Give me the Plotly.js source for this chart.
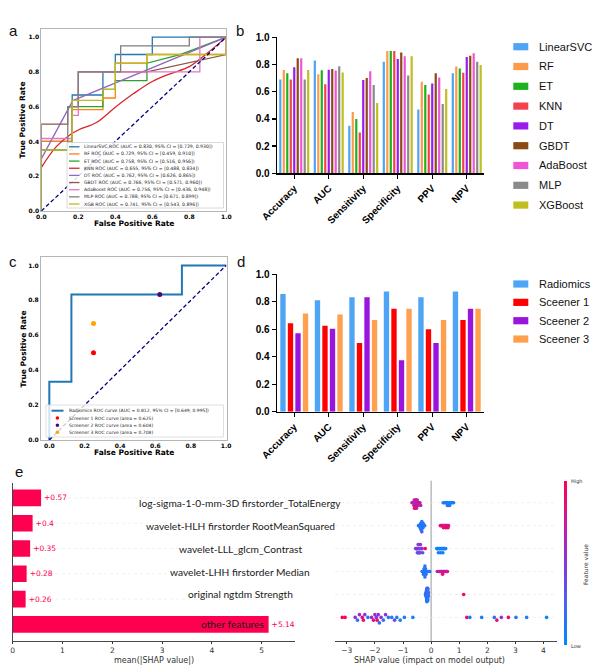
<!DOCTYPE html>
<html><head><meta charset="utf-8">
<script src="https://cdn.plot.ly/plotly-3.0.1.min.js"></script>
<style>html,body{margin:0;padding:0;background:#fff}#chart{width:600px;height:670px}</style>
</head><body><div id="chart"></div>
<script>
// ---------------- DATA ----------------
// Panel a: ROC curves of nine models
const rocModels = ['LinearSVC','RF','ET','KNN','DT','GBDT','AdaBoost','MLP','XGB'];
const rocAuc    = [0.830,0.729,0.758,0.655,0.762,0.766,0.756,0.788,0.741];
const rocCiLow  = [0.729,0.459,0.516,0.488,0.626,0.571,0.436,0.671,0.543];
const rocCiHigh = [0.930,0.910,0.956,0.834,0.865,0.960,0.948,0.899,0.896];
const linearSvcFpr = [0,0,0.167,0.167,0.333,0.333,0.4,0.4,0.6,0.6,1];
const linearSvcTpr = [0,0.4,0.4,0.667,0.667,0.8,0.8,0.9,0.9,1,1];
const rfFpr = [0,0,0.167,0.167,0.333,0.333,0.4,0.4,0.571,0.571,1,1];
const rfTpr = [0,0.4,0.4,0.583,0.583,0.65,0.65,0.85,0.85,0.9,0.9,1];
const etFpr = [0,0,0.167,0.167,0.333,0.333,0.4,0.4,0.571,0.571,0.75,1];
const etTpr = [0,0.35,0.35,0.6,0.6,0.7,0.7,0.75,0.75,0.85,0.9,1];
const knnFpr = [0,0.081,0.154,0.2,0.298,0.4,0.497,0.6,0.696,0.8,0.895,1];
const knnTpr = [0.25,0.37,0.437,0.466,0.509,0.597,0.674,0.745,0.789,0.83,0.906,1];
const dtFpr = [0,0,0.17,1];
const dtTpr = [0,0.3,0.635,1];
const gbdtFpr = [0,0,0.143,0.143,0.2,0.2,0.571,1,1];
const gbdtTpr = [0,0.5,0.5,0.6,0.6,0.8,0.8,0.9,1];
const adaFpr = [0,0,0.167,0.167,0.2,0.2,0.857,0.857,1];
const adaTpr = [0,0.417,0.417,0.55,0.55,0.8,0.8,1,1];
const mlpFpr = [0,0,0.143,0.143,0.2,0.2,0.429,0.429,0.8,0.8,1];
const mlpTpr = [0,0.35,0.35,0.6,0.6,0.8,0.8,0.95,0.95,1,1];
const xgbFpr = [0,0,0.167,0.167,0.333,0.333,0.4,0.4,0.571,0.571,1,1];
const xgbTpr = [0,0.35,0.35,0.636,0.636,0.7,0.7,0.85,0.85,0.9,0.9,1];

// Panel b: metrics of nine models
const metrics = ['Accuracy','AUC','Sensitivity','Specificity','PPV','NPV'];
const models  = ['LinearSVC','RF','ET','KNN','DT','GBDT','AdaBoost','MLP','XGBoost'];
const linearSvcScores = [0.690,0.830,0.350,0.820,0.470,0.735];
const rfScores        = [0.760,0.729,0.450,0.900,0.674,0.785];
const etScores        = [0.735,0.758,0.400,0.900,0.650,0.770];
const knnScores       = [0.690,0.655,0.300,0.900,0.580,0.740];
const dtScores        = [0.780,0.762,0.686,0.840,0.660,0.855];
const gbdtScores      = [0.846,0.766,0.700,0.889,0.735,0.865];
const adaScores       = [0.846,0.756,0.750,0.860,0.705,0.882];
const mlpScores       = [0.690,0.788,0.650,0.720,0.510,0.820];
const xgbScores       = [0.760,0.741,0.517,0.860,0.620,0.797];

// Panel c: radiomics ROC vs screeners
const radFpr = [0,0,0.125,0.125,0.75,0.75,1];
const radTpr = [0,0.333,0.333,0.833,0.833,1,1];
const radAuc = 0.812, radCi = [0.649,0.995];
const screenerNames = ['Screener 1','Screener 2','Screener 3'];
const screenerFpr   = [0.25,0.625,0.25];
const screenerTpr   = [0.5,0.833,0.667];
const screenerArea  = [0.625,0.604,0.708];

// Panel d: radiomics vs screeners metrics
const groupsD    = ['Radiomics','Sceener 1','Sceener 2','Sceener 3'];
const radiomics  = [0.857,0.812,0.833,0.875,0.833,0.875];
const screener1  = [0.643,0.625,0.500,0.750,0.600,0.667];
const screener2  = [0.571,0.604,0.833,0.375,0.500,0.750];
const screener3  = [0.714,0.708,0.667,0.750,0.667,0.750];

// Panel e: SHAP
const features = ['log-sigma-1-0-mm-3D firstorder_TotalEnergy','wavelet-HLH firstorder RootMeanSquared',
  'wavelet-LLL_glcm_Contrast','wavelet-LHH firstorder Median','original ngtdm Strength','other features'];
const meanShap = [0.57,0.4,0.35,0.28,0.26,5.14];
const shapTotalEnergy = [-0.68,-0.64,-0.62,-0.61,-0.60,-0.59,-0.58,-0.57,-0.56,-0.56,-0.55,-0.54,-0.53,-0.52,-0.51,-0.50,-0.49,-0.47,-0.45,-0.43,-0.40,-0.37,0.43,0.48,0.52,0.55,0.57,0.58,0.60,0.62,0.64,0.66,0.69,0.72,0.76,0.80];
const fvTotalEnergy   = [0.75,0.9,0.6,0.85,0.7,0.95,0.55,0.8,0.65,0.9,0.7,0.6,0.85,0.75,0.5,0.95,0.65,0.8,0.7,0.6,0.9,0.55,0.1,0.05,0.15,0.0,0.1,0.2,0.05,0.1,0.0,0.15,0.05,0.1,0.0,0.05];
const shapRms = [-0.45,-0.42,-0.40,-0.39,-0.38,-0.37,-0.37,-0.36,-0.35,-0.35,-0.34,-0.34,-0.33,-0.33,-0.32,-0.32,-0.31,-0.30,-0.29,-0.28,-0.26,-0.23,0.33,0.37,0.40,0.42,0.44,0.46,0.48,0.50,0.52,0.54,0.56,0.58,0.60,0.62];
const fvRms   = [0.1,0.15,0.05,0.2,0.1,0.0,0.25,0.1,0.05,0.15,0.2,0.1,0.0,0.3,0.1,0.05,0.15,0.2,0.1,0.25,0.05,0.1,0.9,0.8,0.95,0.85,0.7,1.0,0.9,0.75,0.95,0.85,0.8,0.9,1.0,0.85];
const shapContrast = [-0.55,-0.52,-0.50,-0.49,-0.48,-0.47,-0.46,-0.45,-0.44,-0.43,-0.42,-0.41,-0.40,-0.39,-0.38,-0.36,-0.34,-0.32,-0.30,-0.21,0.20,0.22,0.24,0.26,0.28,0.30,0.32,0.34,0.36,0.38,0.40,0.42,0.44,0.46,0.49,0.52];
const fvContrast   = [0.45,0.4,0.5,0.35,0.55,0.3,0.45,0.6,0.4,0.35,0.5,0.3,0.45,0.4,0.55,0.35,0.3,0.5,0.4,0.95,0.05,0.1,0.0,0.1,0.15,0.05,0.0,0.1,0.05,0.2,0.1,0.0,0.05,0.15,0.1,0.05];
const shapMedian = [-0.32,-0.30,-0.28,-0.27,-0.26,-0.25,-0.25,-0.24,-0.23,-0.23,-0.22,-0.22,-0.21,-0.21,-0.20,-0.19,-0.18,-0.17,-0.15,-0.12,-0.08,-0.05,0.22,0.28,0.32,0.35,0.37,0.39,0.41,0.43,0.45,0.47,0.50,0.53,0.56,0.58];
const fvMedian   = [0.1,0.2,0.05,0.15,0.1,0.25,0.0,0.1,0.2,0.05,0.15,0.1,0.3,0.05,0.2,0.1,0.15,0.0,0.1,0.2,0.05,0.1,0.6,0.75,0.7,0.85,0.65,0.8,0.9,0.7,0.6,0.85,0.75,0.9,0.8,0.7];
const shapStrength = [-0.20,-0.19,-0.19,-0.18,-0.18,-0.17,-0.17,-0.17,-0.16,-0.16,-0.16,-0.16,-0.15,-0.15,-0.15,-0.15,-0.15,-0.14,-0.14,-0.14,-0.14,-0.14,-0.13,-0.13,-0.13,-0.13,-0.12,-0.12,-0.12,-0.12,-0.11,-0.11,-0.11,-0.10,-0.10,1.16];
const fvStrength   = [0.2,0.1,0.3,0.15,0.25,0.1,0.2,0.05,0.3,0.15,0.1,0.25,0.2,0.1,0.05,0.3,0.15,0.25,0.1,0.2,0.05,0.15,0.3,0.1,0.2,0.25,0.1,0.15,0.05,0.2,0.3,0.1,0.15,0.25,0.2,0.95];
const shapOther = [-3.16,-3.06,-2.70,-2.62,-2.55,-2.45,-2.41,-2.36,-2.25,-2.12,-2.05,-2.00,-1.95,-1.92,-1.88,-1.84,-1.78,-1.70,-1.62,-1.52,-1.40,-1.30,-1.22,-1.10,-0.95,-0.65,1.27,1.38,1.80,2.25,2.34,2.50,2.75,3.02,3.40,4.11];
const fvOther   = [1.0,0.95,0.5,0.2,0.6,0.9,0.85,0.5,0.15,0.55,0.8,0.6,0.45,0.9,0.5,0.2,0.55,0.2,0.5,0.1,0.15,0.4,0.1,0.05,0.15,0.1,0.9,0.1,0.05,0.15,0.85,0.5,0.9,0.1,0.1,0.0];

// ---------------- HELPERS ----------------
const W = 600, H = 670;
const PX = v => v / W, PY = v => 1 - v / H;
const domX = (a, b) => [a / W, b / W];
const domY = (top, bottom) => [1 - bottom / H, 1 - top / H];
const MPL = 'DejaVu Sans', ARIAL = 'Liberation Sans, Arial', CAL = 'Lato, Noto Sans, sans-serif';

const traces = [], shapes = [], annotations = [];

// ---------------- PANEL a ----------------
const rocCurves = [[linearSvcFpr,linearSvcTpr],[rfFpr,rfTpr],[etFpr,etTpr],[knnFpr,knnTpr],[dtFpr,dtTpr],
  [gbdtFpr,gbdtTpr],[adaFpr,adaTpr],[mlpFpr,mlpTpr],[xgbFpr,xgbTpr]];
const rocColors = ['#1f77b4','#ff7f0e','#2ca02c','#d62728','#9467bd','#8c564b','#e377c2','#7f7f7f','#bcbd22'];
rocCurves.forEach((c, i) => traces.push({type:'scatter', mode:'lines', x:c[0], y:c[1], xaxis:'x', yaxis:'y',
  line:{color:rocColors[i], width:1.3, shape: rocModels[i]==='KNN' ? 'spline' : 'linear'}, showlegend:false, hoverinfo:'skip'}));
traces.push({type:'scatter', mode:'lines', x:[0,1], y:[0,1], xaxis:'x', yaxis:'y',
  line:{color:'#000080', width:1.3, dash:'4px,2.5px'}, showlegend:false, hoverinfo:'skip'});

// legend a (manual)
shapes.push({type:'rect', xref:'paper', yref:'paper', x0:PX(67), x1:PX(223.5), y0:PY(208), y1:PY(142.5),
  fillcolor:'rgba(255,255,255,0.85)', line:{color:'#d0d0d0', width:0.8}, layer:'above'});
rocModels.forEach((m, i) => {
  const cy = 146.8 + i * 7.15;
  shapes.push({type:'line', xref:'paper', yref:'paper', x0:PX(69), x1:PX(79.5), y0:PY(cy), y1:PY(cy),
    line:{color:rocColors[i], width:1.3}, layer:'above'});
  annotations.push({xref:'paper', yref:'paper', x:PX(82), y:PY(cy), xanchor:'left', yanchor:'middle', showarrow:false,
    text:`${m} ROC (AUC = ${rocAuc[i].toFixed(3)}, 95% CI = [${rocCiLow[i].toFixed(3)}, ${rocCiHigh[i].toFixed(3)}])`,
    font:{family:MPL, size:4.6, color:'#222'}});
});

// ---------------- PANEL b ----------------
const modelScores = [linearSvcScores,rfScores,etScores,knnScores,dtScores,gbdtScores,adaScores,mlpScores,xgbScores];
const barColorsB = ['#4ea4f5','#fd9b4a','#1db11d','#f5414b','#9b1beb','#8b4a16','#f055d6','#8a8a8a','#bfbf1f'];
{
  const n = models.length, pitch = 0.101, bw = 0.064;
  modelScores.forEach((vals, i) => traces.push({type:'bar', x:metrics, y:vals, xaxis:'x2', yaxis:'y2',
    width:bw, offset:-n*pitch/2 + i*pitch + (pitch-bw)/2, marker:{color:barColorsB[i], line:{width:0}},
    showlegend:false, hoverinfo:'skip'}));
  models.forEach((m, i) => {
    const cy = 46.7 + i * 19.8;
    shapes.push({type:'rect', xref:'paper', yref:'paper', x0:PX(513.3), x1:PX(528.3), y0:PY(cy+3.6), y1:PY(cy-3.6),
      fillcolor:barColorsB[i], line:{width:0}});
    annotations.push({xref:'paper', yref:'paper', x:PX(536.5), y:PY(cy), xanchor:'left', yanchor:'middle', showarrow:false,
      text:m, font:{family:ARIAL, size:11, color:'#111'}});
  });
}

// ---------------- PANEL c ----------------
traces.push({type:'scatter', mode:'lines', x:radFpr, y:radTpr, xaxis:'x3', yaxis:'y3',
  line:{color:'#1f77b4', width:2}, showlegend:false, hoverinfo:'skip'});
traces.push({type:'scatter', mode:'lines', x:[0,1], y:[0,1], xaxis:'x3', yaxis:'y3',
  line:{color:'#000080', width:1.3, dash:'4px,2.5px'}, showlegend:false, hoverinfo:'skip'});
const screenerColors = ['#ff0000','#4b0a6e','#ffa500'];
screenerNames.forEach((s, i) => traces.push({type:'scatter', mode:'markers', x:[screenerFpr[i]], y:[screenerTpr[i]],
  xaxis:'x3', yaxis:'y3', marker:{color:screenerColors[i], size:5}, showlegend:false, hoverinfo:'skip'}));
// legend c (manual)
shapes.push({type:'rect', xref:'paper', yref:'paper', x0:PX(46), x1:PX(223.5), y0:PY(437), y1:PY(405),
  fillcolor:'rgba(255,255,255,0.8)', line:{color:'#d8d8d8', width:0.8}, layer:'above'});
{
  const ys = [410.7, 418, 425.2, 432.3];
  shapes.push({type:'line', xref:'paper', yref:'paper', x0:PX(51.5), x1:PX(63.5), y0:PY(ys[0]), y1:PY(ys[0]),
    line:{color:'#1f77b4', width:2}, layer:'above'});
  annotations.push({xref:'paper', yref:'paper', x:PX(66.5), y:PY(ys[0]), xanchor:'left', yanchor:'middle', showarrow:false,
    text:`Radiomics ROC curve (AUC = ${radAuc.toFixed(3)}, 95% CI = [${radCi[0].toFixed(3)}, ${radCi[1].toFixed(3)}])`,
    font:{family:MPL, size:4.5, color:'#222'}});
  screenerNames.forEach((s, i) => {
    const cy = ys[i+1];
    shapes.push({type:'circle', xref:'paper', yref:'paper', x0:PX(55.6), x1:PX(59.2), y0:PY(cy+1.8), y1:PY(cy-1.8),
      fillcolor:screenerColors[i], line:{width:0}, layer:'above'});
    annotations.push({xref:'paper', yref:'paper', x:PX(66.5), y:PY(cy), xanchor:'left', yanchor:'middle', showarrow:false,
      text:`${s} ROC curve (area = ${screenerArea[i].toFixed(3)})`, font:{family:MPL, size:4.5, color:'#222'}});
  });
}

// ---------------- PANEL d ----------------
const groupScores = [radiomics, screener1, screener2, screener3];
const barColorsD = ['#4ea4f5','#ff0000','#9b14de','#ffa04f'];
{
  const n = groupsD.length, pitch = 0.218, bw = 0.155;
  groupScores.forEach((vals, i) => traces.push({type:'bar', x:metrics, y:vals, xaxis:'x4', yaxis:'y4',
    width:bw, offset:-n*pitch/2 + i*pitch + (pitch-bw)/2, marker:{color:barColorsD[i], line:{width:0}},
    showlegend:false, hoverinfo:'skip'}));
  groupsD.forEach((g, i) => {
    const cy = 284 + i * 18.35;
    shapes.push({type:'rect', xref:'paper', yref:'paper', x0:PX(513.3), x1:PX(528.3), y0:PY(cy+3.6), y1:PY(cy-3.6),
      fillcolor:barColorsD[i], line:{width:0}});
    annotations.push({xref:'paper', yref:'paper', x:PX(536.5), y:PY(cy), xanchor:'left', yanchor:'middle', showarrow:false,
      text:g, font:{family:ARIAL, size:11, color:'#111'}});
  });
}

// ---------------- PANEL e (left: mean |SHAP|) ----------------
const rowIdx = features.map((f, i) => i);
rowIdx.forEach(i => {
  shapes.push({type:'line', xref:'paper', yref:'y5', x0:PX(14), x1:PX(295), y0:i, y1:i,
    line:{color:'#e6e6e6', width:0.6, dash:'dot'}, layer:'below'});
});
traces.push({type:'bar', orientation:'h', x:meanShap, y:rowIdx, xaxis:'x5', yaxis:'y5', width:0.66,
  marker:{color:'#ff0051', line:{width:0}}, text:meanShap.map(v => '+' + v), textposition:'outside',
  textfont:{family:MPL, size:7.5, color:'#ff0051'}, cliponaxis:false, constraintext:'none',
  showlegend:false, hoverinfo:'skip'});

// ---------------- PANEL e (right: beeswarm) ----------------
function swarmOffsets(vals) {
  const N = vals.length, nbins = 40;
  const mn = Math.min(...vals), mx = Math.max(...vals);
  const quant = vals.map(v => Math.round(nbins * (v - mn) / (mx - mn + 1e-8)));
  const inds = vals.map((v, i) => i).sort((a, b) => (quant[a] - quant[b]) || (a - b));
  let layer = 0, last = -1; const ys = new Array(N).fill(0);
  for (const i of inds) {
    if (quant[i] !== last) layer = 0;
    ys[i] = Math.ceil(layer / 2) * ((layer % 2) * 2 - 1);
    layer++; last = quant[i];
  }
  const m = Math.max(...ys.map(y => y + 1));
  return ys.map(y => y * 0.9 * (0.4 / m));
}
const shapRows = [shapTotalEnergy, shapRms, shapContrast, shapMedian, shapStrength, shapOther];
const fvRows   = [fvTotalEnergy, fvRms, fvContrast, fvMedian, fvStrength, fvOther];
const bx = [], by = [], bc = [];
shapRows.forEach((vals, r) => {
  const off = swarmOffsets(vals);
  vals.forEach((v, k) => { bx.push(v); by.push(r + off[k]); bc.push(fvRows[r][k]); });
  shapes.push({type:'line', xref:'x6', yref:'y6', x0:-3.42, x1:4.47, y0:r, y1:r,
    line:{color:'#e6e6e6', width:0.6, dash:'dot'}, layer:'below'});
});
shapes.push({type:'line', xref:'x6', yref:'paper', x0:0, x1:0, y0:PY(641), y1:PY(480.7),
  line:{color:'#999999', width:1}, layer:'below'});
traces.push({type:'scatter', mode:'markers', x:bx, y:by, xaxis:'x6', yaxis:'y6',
  marker:{color:bc, cmin:0, cmax:1, size:3.6, line:{width:0},
    colorscale:[[0,'#008bfb'],[0.25,'#4a63f0'],[0.5,'#8a33dc'],[0.75,'#cc1a9c'],[1,'#ff0051']],
    showscale:true,
    colorbar:{x:PX(563.8), xanchor:'left', y:PY(480.7), yanchor:'top', len:(645-480.7)/H, lenmode:'fraction',
      thickness:2.6, thicknessmode:'pixels', outlinewidth:0, showticklabels:false, ticks:'', xpad:0, ypad:0}},
  showlegend:false, hoverinfo:'skip'});

// feature labels
features.forEach((f, i) => {
  if (i < 5) {
    annotations.push({xref:'paper', yref:'y6', x:PX(240), y:i, xanchor:'center', yanchor:'middle', showarrow:false,
      text:f, font:{family:CAL, size:10.2, color:'#1a1a1a'}});
  } else {
    annotations.push({xref:'x5', yref:'y5', x:meanShap[i], y:i, xanchor:'right', yanchor:'middle', xshift:-3,
      showarrow:false, text:f, font:{family:CAL, size:10.2, color:'#1a1a1a'}});
  }
});
annotations.push({xref:'paper', yref:'paper', x:PX(569), y:PY(481), xanchor:'left', yanchor:'middle', showarrow:false,
  text:'High', font:{family:MPL, size:5, color:'#333'}});
annotations.push({xref:'paper', yref:'paper', x:PX(569), y:PY(646), xanchor:'left', yanchor:'middle', showarrow:false,
  text:'Low', font:{family:MPL, size:5, color:'#333'}});
annotations.push({xref:'paper', yref:'paper', x:PX(585), y:PY(565), xanchor:'center', yanchor:'middle', showarrow:false,
  text:'Feature value', textangle:-90, font:{family:MPL, size:6, color:'#333'}});

// axis titles
const tA = {family:MPL, size:7.5, color:'#000', weight:'bold'};
annotations.push({xref:'paper', yref:'paper', x:PX(134), y:PY(223.3), showarrow:false, text:'False Positive Rate', font:tA});
annotations.push({xref:'paper', yref:'paper', x:PX(22.5), y:PY(120), showarrow:false, text:'True Positive Rate', textangle:-90, font:tA});
annotations.push({xref:'paper', yref:'paper', x:PX(134), y:PY(452), showarrow:false, text:'False Positive Rate', font:tA});
annotations.push({xref:'paper', yref:'paper', x:PX(22.5), y:PY(349), showarrow:false, text:'True Positive Rate', textangle:-90, font:tA});
annotations.push({xref:'paper', yref:'paper', x:PX(154), y:PY(660), showarrow:false, text:'mean(|SHAP value|)', font:{family:MPL, size:8, color:'#333'}});
annotations.push({xref:'paper', yref:'paper', x:PX(429), y:PY(660.5), showarrow:false, text:'SHAP value (impact on model output)', font:{family:MPL, size:8, color:'#333'}});

// panel letters
[['a',13,31],['b',240,31],['c',13,261],['d',241,261],['e',19,472]].forEach(l =>
  annotations.push({xref:'paper', yref:'paper', x:PX(l[1]), y:PY(l[2]), showarrow:false, text:l[0],
    font:{family:ARIAL, size:15, color:'#111'}}));

annotations.forEach(a => { a.xanchor = a.xanchor || 'center'; a.yanchor = a.yanchor || 'middle'; });

// ---------------- LAYOUT ----------------
const rocX = {range:[0,1], tickvals:[0,0.2,0.4,0.6,0.8,1], tickformat:'.1f', showline:true, mirror:true,
  linecolor:'#b5b5b5', linewidth:1, ticks:'', showgrid:false, zeroline:false,
  tickfont:{family:MPL, size:6, color:'#000', weight:'bold'}, fixedrange:true};
const barY = {range:[0,1], dtick:0.2, tickformat:'.1f', showline:true, linecolor:'#000', linewidth:1.3,
  ticks:'outside', ticklen:4, tickwidth:1.3, tickcolor:'#000', showgrid:false, zeroline:false,
  tickfont:{family:ARIAL, size:10, color:'#000', weight:'bold'}, fixedrange:true};
const barX = {type:'category', range:[-0.5,5.5], showline:true, linecolor:'#000', linewidth:1.3,
  ticks:'outside', ticklen:4, tickwidth:1.3, tickcolor:'#000', showgrid:false, zeroline:false, tickangle:-45,
  tickfont:{family:ARIAL, size:10, color:'#000', weight:'bold'}, fixedrange:true};
const shapX = {showline:true, linecolor:'#333', linewidth:0.9, ticks:'outside', ticklen:2.5, tickcolor:'#333',
  showgrid:false, zeroline:false, tickfont:{family:MPL, size:7.5, color:'#333'}, fixedrange:true};

const layout = {
  width:W, height:H, autosize:false, margin:{l:0,r:0,t:0,b:0,pad:0},
  paper_bgcolor:'#fff', plot_bgcolor:'rgba(0,0,0,0)', showlegend:false, barmode:'overlay',
  xaxis: Object.assign({}, rocX, {domain:domX(41.3,226.3), anchor:'y'}),
  yaxis: Object.assign({}, rocX, {domain:domY(29.3,211), range:[0,1.045], anchor:'x'}),
  xaxis2: Object.assign({}, barX, {domain:domX(277,484), anchor:'y2'}),
  yaxis2: Object.assign({}, barY, {domain:domY(37.3,173.3), anchor:'x2'}),
  xaxis3: Object.assign({}, rocX, {domain:domX(41,227), range:[-0.047,1.005], anchor:'y3'}),
  yaxis3: Object.assign({}, rocX, {domain:domY(256.7,440), range:[0,1.05], anchor:'x3'}),
  xaxis4: Object.assign({}, barX, {domain:domX(277,484), anchor:'y4'}),
  yaxis4: Object.assign({}, barY, {domain:domY(274.3,411.7), anchor:'x4'}),
  xaxis5: Object.assign({}, shapX, {domain:domX(12.7,295), range:[0,5.67], tickvals:[0,1,2,3,4,5], anchor:'y5'}),
  yaxis5: {domain:domY(483.3,641), range:[5.66,-0.58], showline:true, linecolor:'#333', linewidth:0.9,
    showticklabels:false, ticks:'', showgrid:false, zeroline:false, anchor:'x5', fixedrange:true},
  xaxis6: Object.assign({}, shapX, {domain:domX(335,556.7), range:[-3.42,4.47], tickvals:[-3,-2,-1,0,1,2,3,4], anchor:'y6'}),
  yaxis6: {domain:domY(480.7,641), range:[6.03,-0.96], visible:false, anchor:'x6', fixedrange:true},
  shapes, annotations
};

Plotly.newPlot('chart', traces, layout, {staticPlot:true, displayModeBar:false});
</script></body></html>
